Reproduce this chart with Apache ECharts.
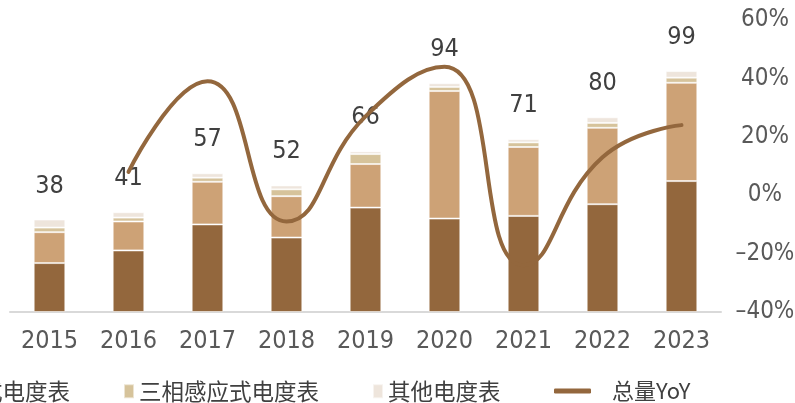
<!DOCTYPE html>
<html>
<head>
<meta charset="utf-8">
<script src="https://cdn.jsdelivr.net/npm/echarts@6/dist/echarts.min.js"></script>
<style>
  html, body { margin: 0; padding: 0; background: #fff; }
  #chart { width: 795px; height: 403px; }
</style>
</head>
<body>
<div id="chart"></div>
<script>
// Years on the category axis
const years = ['2015', '2016', '2017', '2018', '2019', '2020', '2021', '2022', '2023'];

// Stacked meter output by type
const singlePhaseElectronic = [20.1, 25.3, 36.0, 30.6, 42.9, 38.4, 39.5, 44.3, 53.8];
const threePhaseElectronic  = [12.7, 11.9, 17.5, 17.0, 17.9, 52.4, 28.3, 31.4, 40.4];
const threePhaseInduction   = [1.9, 1.6, 1.7, 2.8, 4.1, 1.7, 1.9, 2.0, 2.1];
const otherMeters           = [3.3, 2.2, 1.8, 1.6, 1.1, 1.5, 1.3, 2.3, 2.7];

// Total per year, printed above each stack
const totals = [38, 41, 57, 52, 66, 94, 71, 80, 99];

// Year-on-year change of the total, in percent (no value for the first year)
const totalYoY = [null, 8, 39, -9, 27, 44, -24, 13, 24];

// Right axis tick range
const yoyMin = -40, yoyMax = 60, yoyStep = 20;

const seriesNames = ['单相电子式电度表', '三相电子式电度表', '三相感应式电度表', '其他电度表'];
const lineName = '总量YoY';
const colors = ['#93673D', '#CDA276', '#D6C39B', '#EEE5DC'];

const numFont = '"DejaVu Sans Condensed", "Liberation Sans", sans-serif';
const cjkFont = '"Noto Sans CJK SC", sans-serif';

const chart = echarts.init(document.getElementById('chart'), null, { renderer: 'canvas' });

const stacks = [singlePhaseElectronic, threePhaseElectronic, threePhaseInduction, otherMeters];
const barSeries = stacks.map((vals, i) => ({
  name: seriesNames[i],
  type: 'bar',
  stack: 'meters',
  yAxisIndex: 0,
  barWidth: '40%',
  data: vals,
  itemStyle: {
    color: colors[i],
    borderColor: 'rgba(255,255,255,0.55)',
    borderWidth: 1
  },
  label: i === stacks.length - 1 ? {
    show: true,
    position: 'top',
    distance: 21,
    formatter: p => String(totals[p.dataIndex]),
    fontFamily: numFont,
    fontSize: 25,
    color: '#404040'
  } : { show: false },
  z: 2
}));

chart.setOption({
  animation: false,
  backgroundColor: '#ffffff',
  grid: { left: 10, right: 74, top: 20, bottom: 91, containLabel: false, outerBoundsMode: 'none' },
  legend: [
    {
      data: seriesNames,
      left: -380,
      top: 375,
      itemWidth: 10,
      itemHeight: 14,
      itemGap: 53,
      icon: 'rect',
      textStyle: { fontFamily: cjkFont, fontSize: 22.5, color: '#404040' }
    },
    {
      data: [lineName],
      left: 549,
      top: 375,
      itemWidth: 37,
      itemHeight: 5,
      icon: 'roundRect',
      textStyle: { fontFamily: cjkFont, fontSize: 22, color: '#404040', padding: [0, 0, 0, 16] }
    }
  ],
  xAxis: {
    type: 'category',
    data: years,
    axisLine: { show: true, lineStyle: { color: '#D9D9D9', width: 2 } },
    axisTick: { show: false },
    axisLabel: { interval: 0, fontFamily: numFont, fontSize: 25, color: '#595959', margin: 17 }
  },
  yAxis: [
    {
      type: 'value',
      min: 0,
      max: 120,
      interval: 20,
      show: false,
      splitLine: { show: false }
    },
    {
      type: 'value',
      position: 'right',
      min: yoyMin,
      max: yoyMax,
      interval: yoyStep,
      axisLine: { show: false },
      axisTick: { show: false },
      splitLine: { show: false },
      axisLabel: {
        fontFamily: numFont,
        fontSize: 24,
        color: '#595959',
        align: 'center',
        margin: 44,
        formatter: v => (v < 0 ? '\u2013' + Math.abs(v) : String(v)) + '%'
      }
    }
  ],
  series: barSeries.concat([{
    name: lineName,
    type: 'line',
    yAxisIndex: 1,
    data: totalYoY,
    smooth: true,
    showSymbol: false,
    symbol: 'none',
    connectNulls: false,
    lineStyle: { color: '#93673D', width: 4, cap: 'round' },
    itemStyle: { color: '#93673D' },
    z: 5
  }])
});
</script>
</body>
</html>
